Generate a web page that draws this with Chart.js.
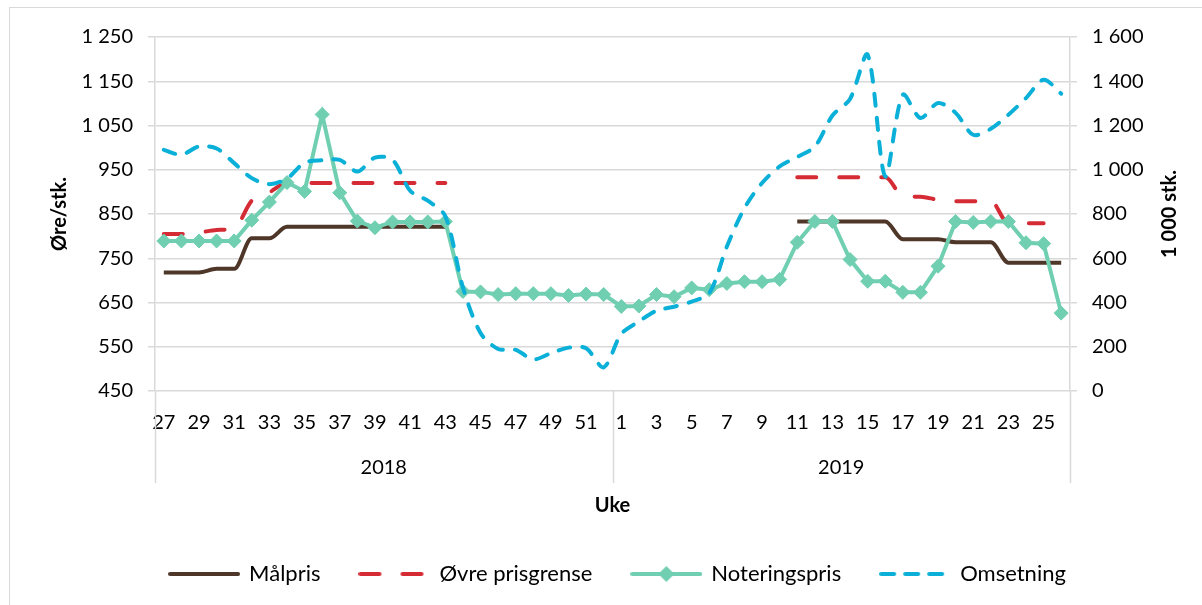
<!DOCTYPE html>
<html>
<head>
<meta charset="utf-8">
<script src="https://cdn.jsdelivr.net/npm/chart.js@4.4.1/dist/chart.umd.min.js"></script>
<style>
  html, body { margin: 0; padding: 0; background: #fff; }
</style>
</head>
<body>
<canvas id="prisChart" width="1202" height="605"></canvas>
<script>
// uker per aar
const weeks2018 = ['27','28','29','30','31','32','33','34','35','36','37','38','39','40','41','42','43','44','45','46','47','48','49','50','51','52']
const weeks2019 = ['1','2','3','4','5','6','7','8','9','10','11','12','13','14','15','16','17','18','19','20','21','22','23','24','25','26']
const years = ['2018', '2019']

// Øre/stk. (venstre akse)
const malpris = [718, 718, 718, 726, 726, 795, 795, 821, 821, 821, 821, 821, 821, 821, 821, 821, 821,
  null, null, null, null, null, null, null, null, null,
  null, null, null, null, null, null, null, null, null, null,
  833, 833, 833, 833, 833, 833, 793, 793, 793, 786, 786, 786, 740, 740, 740, 740]
const ovrePrisgrense = [805, 805, 808, 814, 818, 880, 899, 920, 920, 920, 920, 920, 920, 920, 920, 920, 920,
  null, null, null, null, null, null, null, null, null,
  null, null, null, null, null, null, null, null, null, null,
  933, 933, 933, 933, 933, 933, 891, 889, 882, 879, 879, 879, 829, 829, 829, null]
const noteringspris = [789, 789, 789, 789, 789, 836, 877, 921, 901, 1075, 898, 834, 819, 832, 832, 832, 833,
  675, 674, 668, 670, 670, 670, 666, 669, 668,
  641, 642, 668, 663, 683, 679, 693, 697, 697, 702,
  786, 833, 833, 747, 698, 698, 673, 673, 732, 833, 831, 833, 833, 785, 783, 626]
// 1 000 stk. (hoeyre akse)
const omsetning = [1090, 1068, 1105, 1096, 1030, 962, 935, 960, 1032, 1043, 1045, 992, 1055, 1045, 905, 860, 790,
  468, 262, 190, 186, 143, 171, 196, 193, 107,
  258, 314, 363, 381, 404, 442, 653, 827, 940, 1015,
  1058, 1105, 1245, 1320, 1520, 970, 1339, 1234, 1302, 1257, 1158, 1185, 1249, 1324, 1407, 1344]

const labels = [...weeks2018, ...weeks2019]

const FONT = 'Lato'
const GRID = '#d9d9d9'
const BROWN = '#4e3629'
const RED = '#d52b34'
const GREEN = '#70cfb1'
const BLUE = '#0bb0d8'

const fmt = v => String(v).replace(/\B(?=(\d{3})+(?!\d))/g, ' ')

// legend-ikoner som canvas
const makeIcon = (color, dash, diamond) => {
  const c = document.createElement('canvas')
  c.width = 72
  c.height = 20
  const g = c.getContext('2d')
  g.strokeStyle = color
  g.lineWidth = 4
  g.lineCap = 'round'
  g.setLineDash(dash)
  g.beginPath()
  g.moveTo(2, 10)
  g.lineTo(70, 10)
  g.stroke()
  if (diamond) {
    g.fillStyle = color
    g.beginPath()
    g.moveTo(36, 2)
    g.lineTo(44, 10)
    g.lineTo(36, 18)
    g.lineTo(28, 10)
    g.closePath()
    g.fill()
  }
  return c
}
const legendIcons = [
  makeIcon(BROWN, [], false),
  makeIcon(RED, [19, 23], false),
  makeIcon(GREEN, [], true),
  makeIcon(BLUE, [13, 11], false),
]

const framePlugin = {
  id: 'frame',
  beforeDraw(chart) {
    const ctx = chart.ctx
    ctx.save()
    ctx.fillStyle = '#fff'
    ctx.fillRect(0, 0, chart.width, chart.height)
    ctx.strokeStyle = GRID
    ctx.lineWidth = 1
    ctx.strokeRect(9.5, 7.5, 1400, 800)
    ctx.restore()
  },
}

// aarstall under ukene + skillelinjer
const yearPlugin = {
  id: 'years',
  afterDraw(chart) {
    const x = chart.scales.x
    const ctx = chart.ctx
    const bottom = chart.chartArea.bottom
    const n = weeks2018.length
    const mid = (x.getPixelForValue(n - 1) + x.getPixelForValue(n)) / 2
    const edges = [x.left, mid, x.right]
    ctx.save()
    ctx.strokeStyle = GRID
    ctx.lineWidth = 1.5
    edges.forEach(px => {
      ctx.beginPath()
      ctx.moveTo(Math.round(px) + 0.5, bottom)
      ctx.lineTo(Math.round(px) + 0.5, bottom + 92)
      ctx.stroke()
    })
    ctx.fillStyle = '#000'
    ctx.font = '20px ' + FONT
    ctx.textAlign = 'center'
    ctx.textBaseline = 'middle'
    years.forEach((yr, i) => {
      ctx.fillText(yr, (edges[i] + edges[i + 1]) / 2, bottom + 77)
    })
    // tittel paa hoeyre akse
    const y1 = chart.scales.y1
    ctx.font = 'bold 20px ' + FONT
    ctx.translate(y1.right - 32, (chart.chartArea.top + chart.chartArea.bottom) / 2)
    ctx.rotate(-Math.PI / 2)
    ctx.fillText('1 000 stk.', 0, 0)
    ctx.restore()
  },
}

const ctx = document.getElementById('prisChart').getContext('2d')
const myChart = new Chart(ctx, {
  type: 'line',
  data: {
    labels: labels,
    datasets: [
      {
        label: 'Målpris',
        data: malpris,
        yAxisID: 'y',
        borderColor: BROWN,
        backgroundColor: BROWN,
        borderWidth: 4,
        pointRadius: 0,
        cubicInterpolationMode: 'monotone',
        order: 4,
      },
      {
        label: 'Øvre prisgrense',
        data: ovrePrisgrense,
        yAxisID: 'y',
        borderColor: RED,
        backgroundColor: RED,
        borderWidth: 4,
        borderDash: [19, 23],
        borderCapStyle: 'round',
        pointRadius: 0,
        cubicInterpolationMode: 'monotone',
        order: 3,
      },
      {
        label: 'Noteringspris',
        data: noteringspris,
        yAxisID: 'y',
        borderColor: GREEN,
        backgroundColor: GREEN,
        borderWidth: 4,
        pointStyle: 'rectRot',
        pointRadius: 7,
        pointBorderWidth: 1,
        pointBackgroundColor: GREEN,
        pointBorderColor: GREEN,
        tension: 0,
        order: 2,
      },
      {
        label: 'Omsetning',
        data: omsetning,
        yAxisID: 'y1',
        borderColor: BLUE,
        backgroundColor: BLUE,
        borderWidth: 4,
        borderDash: [12, 12],
        borderCapStyle: 'round',
        pointRadius: 0,
        tension: 0.3,
        order: 1,
      },
    ],
  },
  options: {
    responsive: false,
    animation: false,
    devicePixelRatio: 1,
    layout: {
      padding: { top: 37, left: 34, right: 0, bottom: 10 },
    },
    plugins: {
      tooltip: { enabled: false },
      legend: {
        position: 'bottom',
        labels: {
          usePointStyle: true,
          pointStyleWidth: 68,
          padding: 40,
          color: '#000',
          font: { family: FONT, size: 22 },
          sort: (a, b) => a.datasetIndex - b.datasetIndex,
          generateLabels(chart) {
            const items = Chart.defaults.plugins.legend.labels.generateLabels(chart)
            items.forEach(item => {
              item.pointStyle = legendIcons[item.datasetIndex]
              item.rotation = 0
            })
            return items
          },
        },
      },
    },
    scales: {
      x: {
        offset: true,
        grid: { display: false, drawTicks: false },
        border: { display: false },
        ticks: {
          autoSkip: false,
          maxRotation: 0,
          padding: 20,
          color: '#000',
          font: { family: FONT, size: 20 },
          callback: (val, index) => (index % 2 === 0 ? labels[index] : ''),
        },
        title: {
          display: true,
          text: 'Uke',
          color: '#000',
          font: { family: FONT, size: 20, weight: 'bold' },
          padding: { top: 0, bottom: 5 },
        },
        afterFit: scale => { scale.height = 132 },
      },
      y: {
        position: 'left',
        min: 450,
        max: 1250,
        grid: { color: GRID, lineWidth: 1.5, tickLength: 7 },
        border: { display: true, color: GRID, width: 1.5 },
        ticks: {
          stepSize: 100,
          padding: 15,
          color: '#000',
          font: { family: FONT, size: 20 },
          callback: v => fmt(v),
        },
        title: {
          display: true,
          text: 'Øre/stk.',
          color: '#000',
          font: { family: FONT, size: 20, weight: 'bold' },
          padding: { top: 14, bottom: 0 },
        },
        afterFit: scale => { scale.width = 121 },
      },
      y1: {
        position: 'right',
        min: 0,
        max: 1600,
        grid: { drawOnChartArea: false, color: GRID, lineWidth: 1.5, tickLength: 7 },
        border: { display: true, color: GRID, width: 1.5 },
        ticks: {
          stepSize: 200,
          padding: 15,
          color: '#000',
          font: { family: FONT, size: 20 },
          callback: v => fmt(v),
        },
        afterFit: scale => { scale.width = 132 },
      },
    },
  },
  plugins: [framePlugin, yearPlugin],
})
</script>
</body>
</html>
